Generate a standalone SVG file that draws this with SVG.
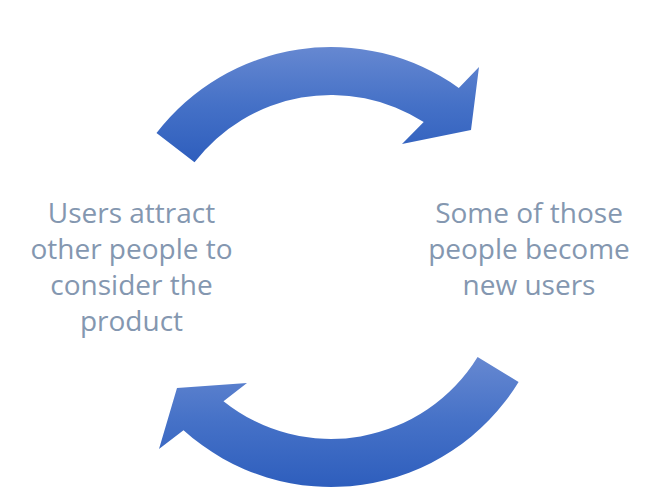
<svg xmlns="http://www.w3.org/2000/svg" width="647" height="503" viewBox="0 0 647 503">
  <defs>
    <linearGradient id="arrowGrad" x1="0" y1="0" x2="0" y2="1">
      <stop offset="0" stop-color="#6688d1"/>
      <stop offset="0.5" stop-color="#4571c7"/>
      <stop offset="1" stop-color="#2e5ebd"/>
    </linearGradient>
  </defs>
  <style>
    .arrow { fill: url(#arrowGrad); stroke: none; }
    .label { font-family: "Open Sans", "Liberation Sans", sans-serif; font-size: 28px; fill: #8497b0; text-anchor: middle; }
  </style>
  <rect width="647" height="503" fill="#ffffff"/>
  <g id="connectors">
    <path id="arrow-top" class="arrow" d="M 156.5,133.1 A 220 220 0 0 1 458.8,87.9 L 479,67 L 471,130 L 402,144 L 423.7,122.1 A 172 172 0 0 0 194.5,162.3 Z"/>
    <path id="arrow-bottom" class="arrow" d="M 477.6,356.9 A 172 172 0 0 1 223.5,401.2 L 247,383 L 177,388 L 159,449 L 183.5,430.2 A 220 220 0 0 0 518.6,381.9 Z"/>
  </g>
  <g id="node-left">
    <text class="label" x="131.5" y="223">Users attract</text>
    <text class="label" x="131.5" y="259">other people to</text>
    <text class="label" x="131.5" y="295">consider the</text>
    <text class="label" x="131.5" y="331">product</text>
  </g>
  <g id="node-right">
    <text class="label" x="529" y="223">Some of those</text>
    <text class="label" x="529" y="259">people become</text>
    <text class="label" x="529" y="295">new users</text>
  </g>
</svg>
